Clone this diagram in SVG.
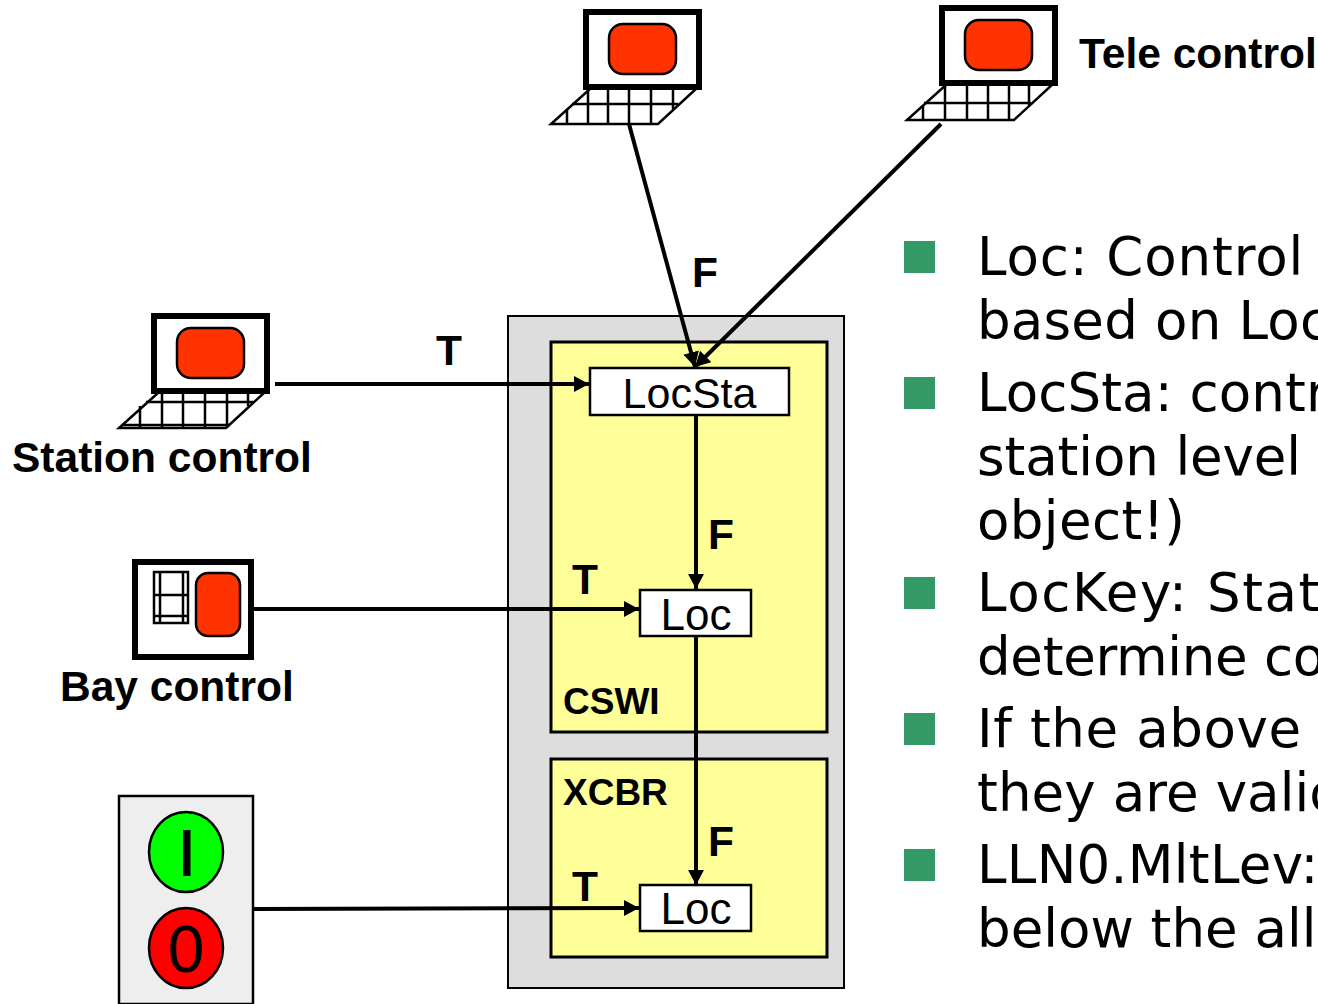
<svg xmlns="http://www.w3.org/2000/svg" width="1318" height="1004" viewBox="0 0 1318 1004">
<style>
.lb{font-family:"Liberation Sans",Arial,sans-serif;font-weight:bold;font-size:42.5px;fill:#000}
.nt{font-family:"Liberation Sans",Arial,sans-serif;font-size:44px;fill:#000;text-anchor:middle}
.bt{font-family:"DejaVu Sans",Verdana,sans-serif;font-size:53px;fill:#000}
.scr{fill:#fff;stroke:#000;stroke-width:6}
.red{fill:#ff3300;stroke:#000;stroke-width:2.5}
.kb{fill:#fff;stroke:#000;stroke-width:2.5}
.grid{fill:none;stroke:#000;stroke-width:2.5}
.box{fill:#ffff99;stroke:#000;stroke-width:3}
.wb{fill:#fff;stroke:#000;stroke-width:2.5}
.con{fill:none;stroke:#000;stroke-width:4}
.bl{fill:#339966}
</style>
<defs>
<marker id="ah" markerUnits="userSpaceOnUse" markerWidth="15" markerHeight="16" refX="15" refY="8" orient="auto"><path d="M0 0L15 8L0 16Z" fill="#000"/></marker>
<g id="kb"><path class="kb" d="M0 115H107L146 79H40Z"/></g>
<g id="scr">
<rect class="scr" x="35" y="3" width="113" height="75"/>
<rect class="red" x="58" y="15" width="67" height="50" rx="14"/>
</g>
</defs>
<g id="station-box"><rect x="508" y="316" width="336" height="672" fill="#dddddd" stroke="#000" stroke-width="2"/></g>
<g id="cswi"><rect class="box" x="551" y="342" width="276" height="390"/><text class="lb" x="563" y="714" style="font-size:37px">CSWI</text></g>
<g id="xcbr"><rect class="box" x="551" y="759" width="276" height="198"/><text class="lb" x="563" y="805" style="font-size:37px">XCBR</text></g>
<g id="connectors">
<path class="con" d="M629 124L695 367" marker-end="url(#ah)"/>
<path class="con" d="M941 124L695 367" marker-end="url(#ah)"/>
<path class="con" d="M275 384H589" marker-end="url(#ah)"/>
<path class="con" d="M696 415V589" marker-end="url(#ah)"/>
<path class="con" d="M253 609H639" marker-end="url(#ah)"/>
<path class="con" d="M696 636V885" marker-end="url(#ah)"/>
<path class="con" d="M253 909L639 908" marker-end="url(#ah)"/>
</g>
<g id="locsta"><rect class="wb" x="590" y="368" width="199" height="47"/><text class="nt" x="689.500" y="408" style="font-size:43px">LocSta</text></g>
<g id="loc1"><rect class="wb" x="640" y="590" width="111" height="46"/><text class="nt" x="696" y="630">Loc</text></g>
<g id="loc2"><rect class="wb" x="640" y="885" width="111" height="46"/><text class="nt" x="696" y="924">Loc</text></g>
<g id="labels">
<text class="lb" x="692" y="287">F</text>
<text class="lb" x="436" y="365">T</text>
<text class="lb" x="708" y="549">F</text>
<text class="lb" x="572" y="594">T</text>
<text class="lb" x="708" y="856">F</text>
<text class="lb" x="572" y="901">T</text>
</g>
<g id="laptop-top" transform="translate(551 9)"><use href="#kb"/><path class="grid" d="M16 100V115M37 81V115M57 79V115M78 79V115M100 79V115M122 79V100M21 95H127"/><use href="#scr"/></g>
<g id="laptop-tele"><g transform="translate(907 5)"><use href="#kb"/><path class="grid" d="M16 100V115M38 81V115M60 79V115M81 79V115M102 79V115M122 79V100M17 98H124"/><use href="#scr"/></g><text class="lb" x="1079" y="68">Tele control</text></g>
<g id="laptop-station"><g transform="translate(119 313)"><use href="#kb"/><path class="grid" d="M21 93V115M43 79V115M64 79V115M86 79V115M108 79V115M129 79V93M27 89H134M3 112H110"/><use href="#scr"/></g><text class="lb" x="12" y="472">Station control</text></g>
<g id="bay-control">
<rect class="scr" x="135" y="562" width="116" height="95"/>
<rect class="grid" x="154" y="572" width="34" height="51"/>
<path class="grid" d="M160 572V623M183 572V623M154 595H188M154 616H188"/>
<rect class="red" x="196" y="573" width="44" height="63" rx="12"/>
<text class="lb" x="60" y="701">Bay control</text>
</g>
<g id="switch">
<rect x="119" y="796" width="134" height="208" fill="#eeeeee" stroke="#000" stroke-width="2.5"/>
<ellipse cx="186" cy="852" rx="37" ry="40" fill="#00ff00" stroke="#000" stroke-width="2.500"/>
<rect x="183" y="830" width="7.500" height="46" fill="#000"/>
<ellipse cx="186" cy="948" rx="37" ry="40" fill="#ff0000" stroke="#000" stroke-width="2.500"/>
<text x="186" y="972" font-family="Liberation Sans, Arial, sans-serif" font-size="66" text-anchor="middle">0</text>
</g>
<g id="bullets">
<rect class="bl" x="904" y="241" width="31" height="32"/>
<rect class="bl" x="904" y="377" width="31" height="32"/>
<rect class="bl" x="904" y="577" width="31" height="32"/>
<rect class="bl" x="904" y="713" width="31" height="32"/>
<rect class="bl" x="904" y="849" width="31" height="32"/>
<text class="bt" x="977" y="275" letter-spacing=".9">Loc: Control</text>
<text class="bt" x="977" y="339" letter-spacing=".2">based on Loc</text>
<text class="bt" x="977" y="411" letter-spacing=".1">LocSta: contr</text>
<text class="bt" x="977" y="475" letter-spacing="-.1">station level</text>
<text class="bt" x="977" y="539" letter-spacing=".4">object!)</text>
<text class="bt" x="977" y="611" letter-spacing="1.6">LocKey: Stat</text>
<text class="bt" x="977" y="675" letter-spacing="-.3">determine co</text>
<text class="bt" x="977" y="747" letter-spacing=".6">If the above</text>
<text class="bt" x="977" y="811" letter-spacing=".1">they are valic</text>
<text class="bt" x="977" y="883" letter-spacing=".3">LLN0.MltLev:</text>
<text class="bt" x="977" y="947">below the all</text>
</g>
</svg>
